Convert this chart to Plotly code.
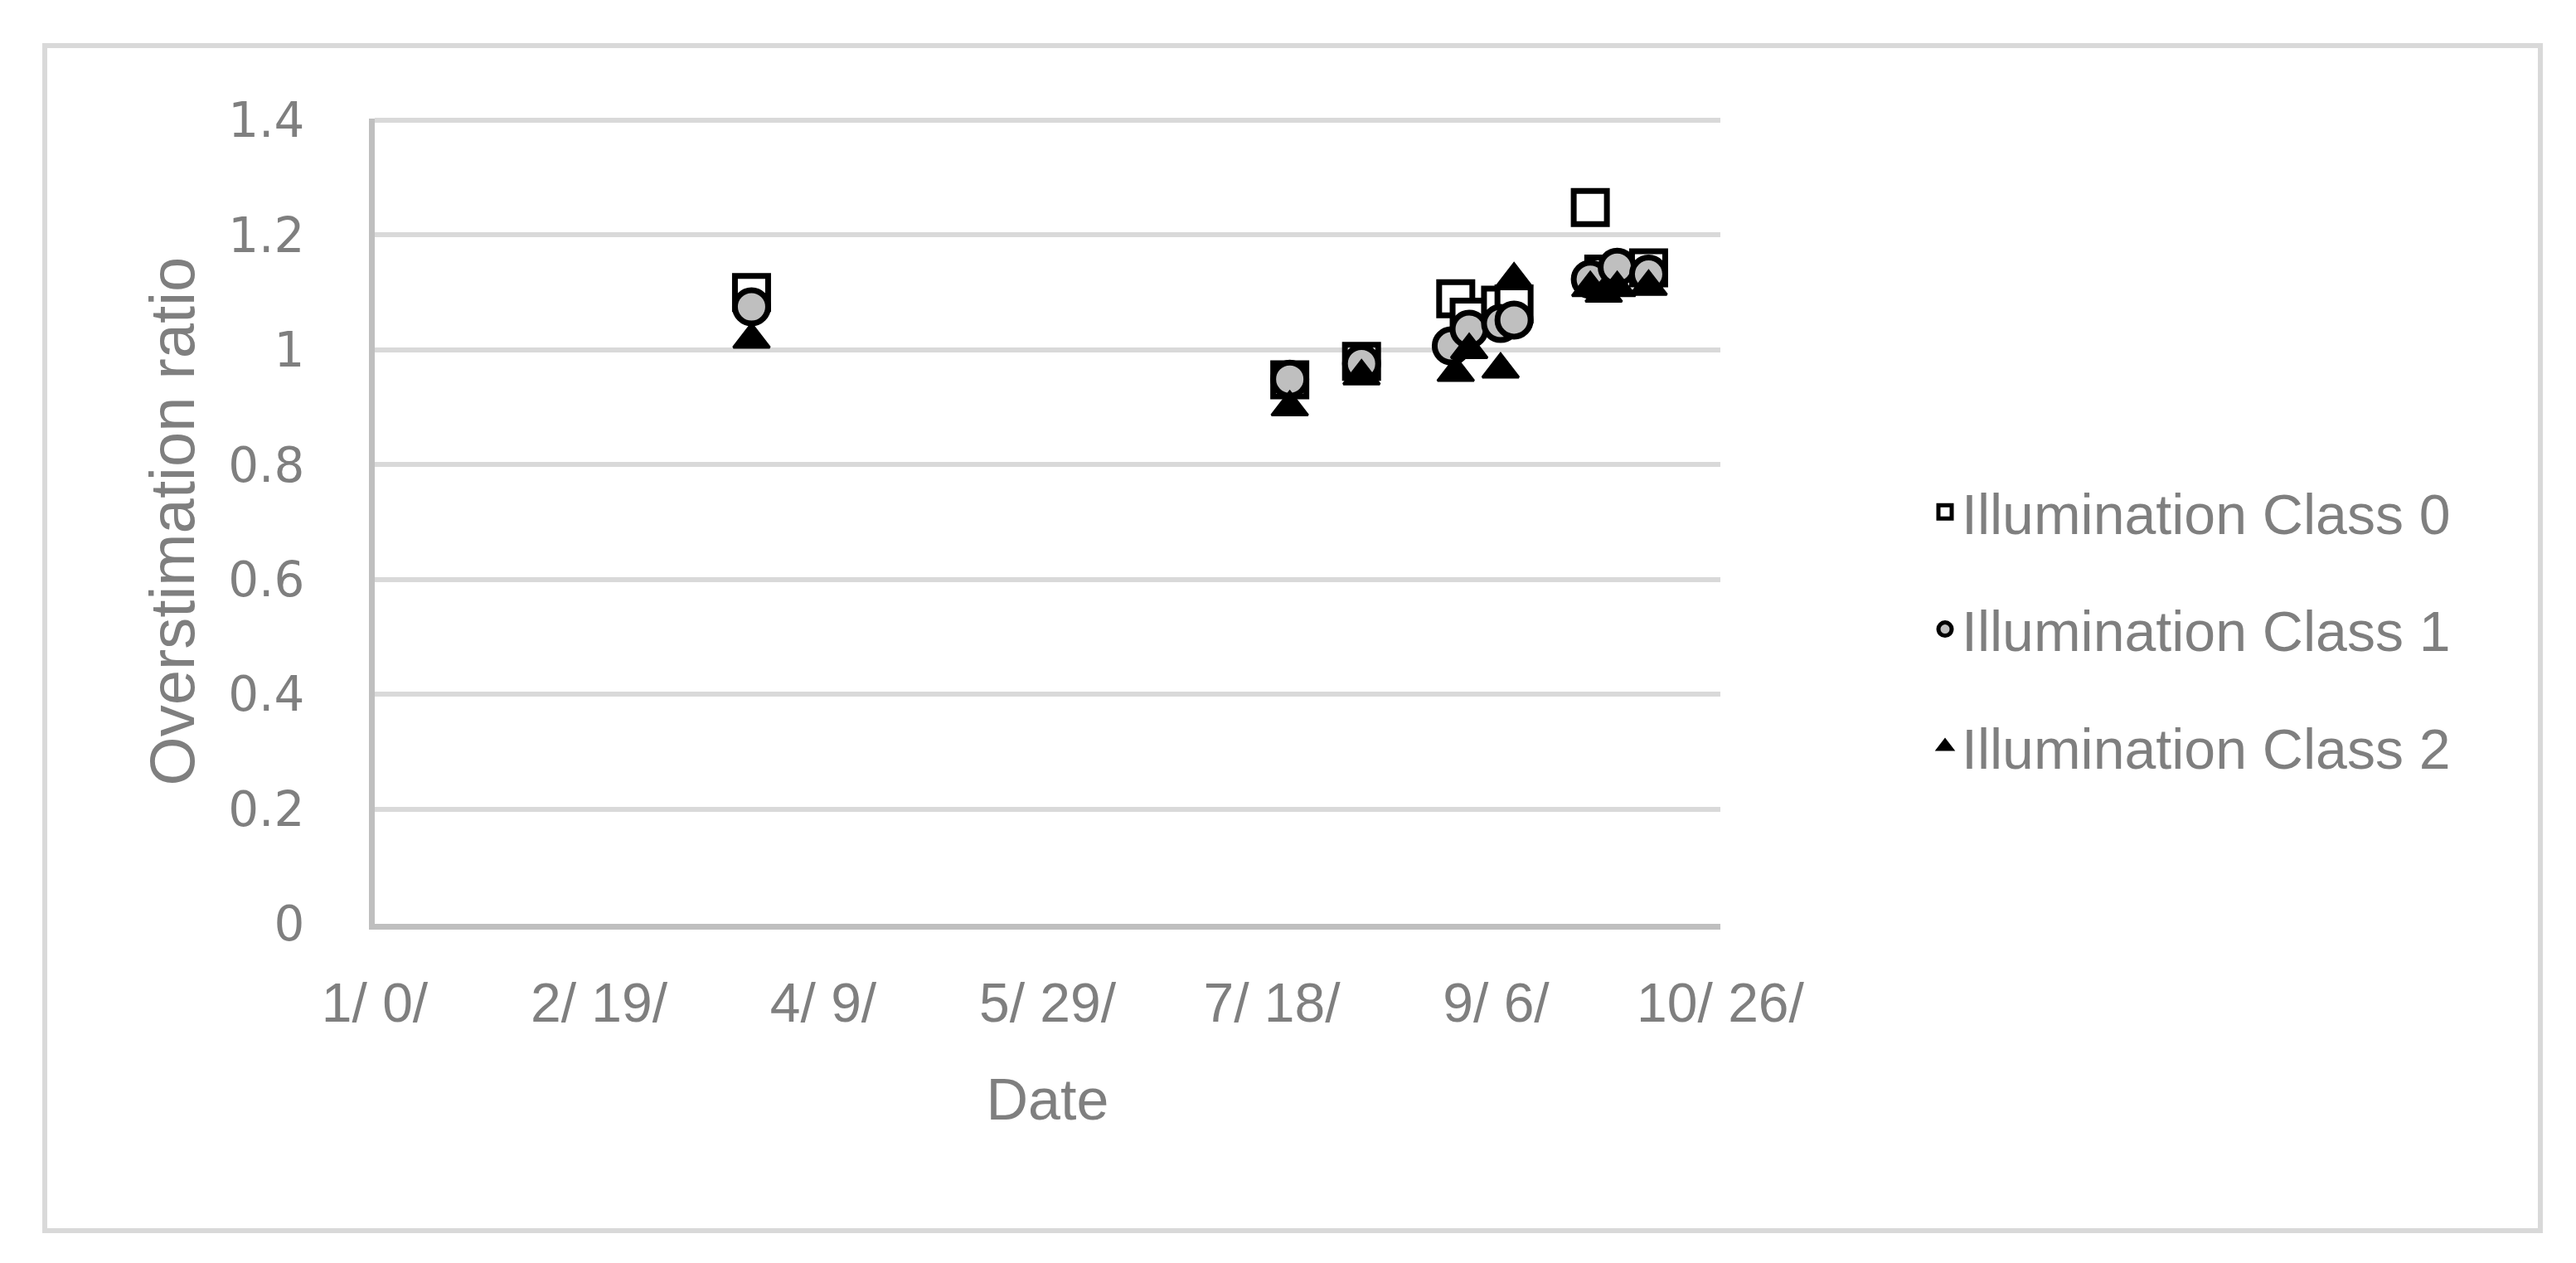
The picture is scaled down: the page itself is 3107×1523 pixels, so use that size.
import plotly.graph_objects as go

W, H = 3107, 1523
# plot area in pixels (left, right, top, bottom)
PL, PR, PT, PB = 444, 2067, 135, 1106

GRAY_TXT = "#7f7f7f"
FONT = "Liberation Sans, Arial, sans-serif"

# Excel day serials (1/0 = day 0)
tick_days = [0, 50, 100, 150, 200, 250, 300]
tick_labels = ["1/ 0/", "2/ 19/", "4/ 9/", "5/ 29/", "7/ 18/", "9/ 6/", "10/ 26/"]

days_c0 = [84, 204, 220, 241, 244, 251, 254, 271, 274, 284]
ratio_c0 = [1.100, 0.948, 0.980, 1.089, 1.057, 1.078, 1.080, 1.248, 1.132, 1.143]

days_c1 = [84, 204, 220, 240, 244, 251, 254, 271, 277, 284]
ratio_c1 = [1.075, 0.949, 0.976, 1.007, 1.036, 1.046, 1.052, 1.123, 1.144, 1.132]

days_c2 = [84, 204, 220, 241, 244, 251, 254, 271, 274, 277, 284]
ratio_c2 = [1.018, 0.900, 0.954, 0.960, 1.000, 0.966, 1.123, 1.108, 1.098, 1.108, 1.110]

y_ticks = [0, 0.2, 0.4, 0.6, 0.8, 1.0, 1.2, 1.4]
y_labels = ["0", "0.2", "0.4", "0.6", "0.8", "1", "1.2", "1.4"]

fig = go.Figure()
fig.add_trace(go.Scatter(
    x=days_c0, y=ratio_c0, mode="markers", name="Illumination Class 0",
    legendgroup="c0",
    marker=dict(symbol="square", size=40, color="white",
                line=dict(color="black", width=7)),
))
fig.add_trace(go.Scatter(
    x=days_c1, y=ratio_c1, mode="markers", name="Illumination Class 1",
    legendgroup="c1",
    marker=dict(symbol="circle", size=40, color="#bfbfbf",
                line=dict(color="black", width=7)),
))
fig.add_trace(go.Scatter(
    x=days_c2, y=ratio_c2, mode="markers", name="Illumination Class 2",
    legendgroup="c2",
    marker=dict(symbol="triangle-up", size=38, color="black",
                line=dict(color="black", width=3)),
))

pw, ph = PR - PL, PB - PT


def px_x(x):
    return (x - PL) / pw


def px_y(y):
    return (PB - y) / ph


# outer chart border
fig.add_shape(type="rect", xref="paper", yref="paper",
              x0=px_x(46), x1=px_x(3056), y0=px_y(1476), y1=px_y(47),
              line=dict(color="#d9d9d9", width=6), fillcolor="rgba(0,0,0,0)")

fig.update_layout(
    width=W, height=H,
    margin=dict(l=PL, r=W - PR, t=PT, b=H - PB, autoexpand=False),
    paper_bgcolor="white", plot_bgcolor="white",
    showlegend=True,
    legend=dict(
        x=px_x(2318), y=px_y(751), xanchor="left", yanchor="middle",
        font=dict(family=FONT, size=68, color=GRAY_TXT),
        tracegroupgap=50, itemsizing="trace",
        bgcolor="rgba(0,0,0,0)",
    ),
    xaxis=dict(
        range=[0, 300], tickvals=tick_days, ticktext=tick_labels,
        showgrid=False, zeroline=False,
        showline=True, linecolor="#bfbfbf", linewidth=7,
        ticks="", ticklabelstandoff=32,
        tickfont=dict(family=FONT, size=66, color=GRAY_TXT),
        title=dict(text="Date", font=dict(family=FONT, size=70, color=GRAY_TXT),
                   standoff=58),
        automargin=False,
    ),
    yaxis=dict(
        # a hair above 1.4 so the top gridline is not clipped
        range=[0, 1.403], tickvals=y_ticks, ticktext=y_labels,
        showgrid=True, gridcolor="#d9d9d9", gridwidth=6,
        zeroline=False,
        showline=True, linecolor="#bfbfbf", linewidth=7,
        ticks="", ticklabelstandoff=66,
        tickfont=dict(family="DejaVu Sans, Verdana, sans-serif", size=58, color=GRAY_TXT),
        title=dict(text="Overstimation ratio",
                   font=dict(family=FONT, size=76, color=GRAY_TXT), standoff=18),
        automargin=False,
    ),
)

fig.write_html("out.html")
